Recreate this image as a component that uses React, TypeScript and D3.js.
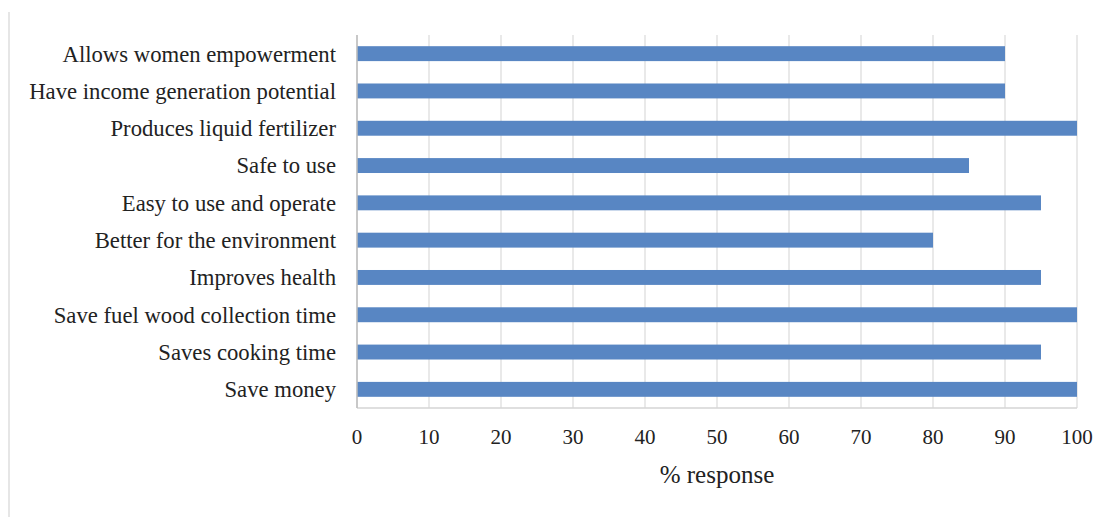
import React from "react";
import * as d3 from "d3";

const categories = [
  "Allows women empowerment",
  "Have income generation potential",
  "Produces liquid fertilizer",
  "Safe to use",
  "Easy to use and operate",
  "Better for the environment",
  "Improves health",
  "Save fuel wood collection time",
  "Saves cooking time",
  "Save money",
];
const values = [90, 90, 100, 85, 95, 80, 95, 100, 95, 100];
const xTicks = [0, 10, 20, 30, 40, 50, 60, 70, 80, 90, 100];

const W = 1110;
const H = 517;
const M = { left: 357, right: 33, top: 35, bottom: 109 };
const FONT = "'Liberation Serif', 'Times New Roman', serif";

export default function App() {
  const x = d3.scaleLinear().domain([0, 100]).range([M.left, W - M.right]);
  const y = d3
    .scaleBand<string>()
    .domain(categories)
    .range([M.top, H - M.bottom])
    .paddingInner(0.6)
    .paddingOuter(0.3);
  const plotBottom = H - M.bottom;

  return (
    <svg
      width={W}
      height={H}
      style={{ position: "absolute", left: 0, top: 0, background: "#fff" }}
    >
      <line x1={9} x2={9} y1={12} y2={H} stroke="#e6e6e6" strokeWidth={2} />
      {xTicks.map((t) => (
        <line
          key={"g" + t}
          x1={x(t)}
          x2={x(t)}
          y1={M.top}
          y2={plotBottom}
          stroke="#e2e2e2"
          strokeWidth={1.5}
        />
      ))}
      <line x1={M.left} x2={x(100)} y1={plotBottom} y2={plotBottom} stroke="#d4d4d4" strokeWidth={1.5} />
      {categories.map((c, i) => (
        <rect
          key={c}
          x={x(0)}
          y={y(c)}
          width={x(values[i]) - x(0)}
          height={y.bandwidth()}
          fill="#5886c3"
        />
      ))}
      <line x1={M.left} x2={M.left} y1={M.top} y2={plotBottom} stroke="#bdbdbd" strokeWidth={1.5} />
      {categories.map((c) => (
        <text
          key={"l" + c}
          x={M.left - 21}
          y={(y(c) as number) + y.bandwidth() / 2}
          dy="0.35em"
          textAnchor="end"
          fontFamily={FONT}
          fontSize={22.7}
          fill="#222"
        >
          {c}
        </text>
      ))}
      {xTicks.map((t) => (
        <text
          key={"t" + t}
          x={x(t)}
          y={444}
          textAnchor="middle"
          fontFamily={FONT}
          fontSize={21}
          fill="#222"
        >
          {t}
        </text>
      ))}
      <text
        x={(x(0) + x(100)) / 2}
        y={483}
        textAnchor="middle"
        fontFamily={FONT}
        fontSize={25}
        fill="#222"
      >
        % response
      </text>
    </svg>
  );
}
